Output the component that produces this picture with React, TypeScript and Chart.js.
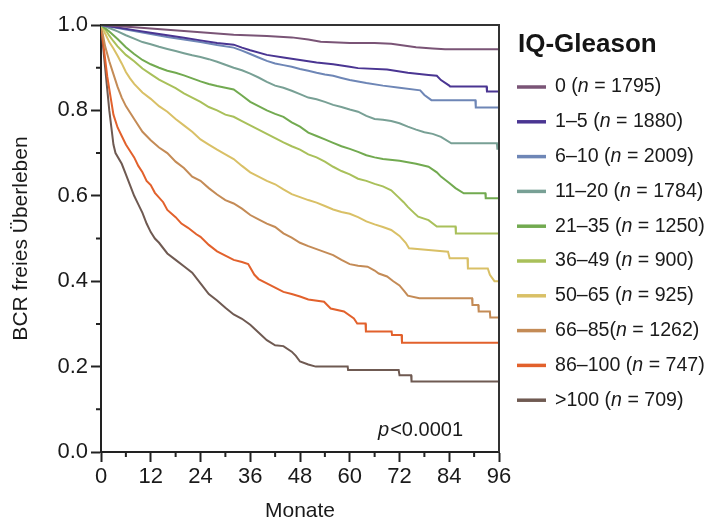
import React, { useEffect, useRef } from 'react';
import { Chart, registerables } from 'chart.js';

Chart.register(...registerables);

const FONT = '"Liberation Sans", Arial, Helvetica, sans-serif';

const seriesLabels = [
  '0 (n = 1795)',
  '1–5 (n = 1880)',
  '6–10 (n = 2009)',
  '11–20 (n = 1784)',
  '21–35 (n = 1250)',
  '36–49 (n = 900)',
  '50–65 (n = 925)',
  '66–85(n = 1262)',
  '86–100 (n = 747)',
  '>100 (n = 709)',
];

const seriesColors = [
  '#7a5476',
  '#4a3592',
  '#6e86b6',
  '#78a095',
  '#72aa50',
  '#a9c05a',
  '#d9c066',
  '#c48b56',
  '#e2612c',
  '#6f5a52',
];

// IQ-Gleason 0
const months0 = [0, 8, 16, 24, 32, 40, 46, 50, 53, 60, 66, 70, 73, 76, 80, 83, 96];
const surv0 = [1, 0.995, 0.989, 0.983, 0.977, 0.974, 0.971, 0.966, 0.961, 0.958, 0.958, 0.956, 0.952, 0.948, 0.945, 0.943, 0.943];

// 1–5
const months1 = [0, 4, 8, 12, 16, 20, 24, 28, 32, 34, 36, 40, 44, 48, 52, 56, 60, 62, 69, 74, 79, 81, 82, 84, 84.2, 93, 93.1, 96];
const surv1 = [1, 0.994, 0.988, 0.982, 0.976, 0.97, 0.964, 0.958, 0.954, 0.947, 0.941, 0.93, 0.924, 0.918, 0.912, 0.908, 0.902, 0.899, 0.896, 0.888, 0.883, 0.881, 0.871, 0.858, 0.856, 0.856, 0.844, 0.844];

// 6–10
const months2 = [0, 4, 8, 12, 16, 20, 24, 28, 32, 34, 36, 38, 40, 42, 44, 46, 48, 50, 52, 54, 56, 58, 60, 64, 68, 72, 77, 78, 79.7, 90.3, 90.4, 96];
const surv2 = [1, 0.993, 0.986, 0.979, 0.972, 0.966, 0.96, 0.953, 0.947, 0.94, 0.932, 0.924, 0.916, 0.91, 0.906, 0.902, 0.897, 0.893, 0.888, 0.884, 0.881, 0.876, 0.871, 0.864, 0.858, 0.853, 0.847, 0.836, 0.824, 0.824, 0.807, 0.807];

// 11–20
const months3 = [0, 2, 4, 6, 8, 10, 12, 14, 16, 18, 20, 22, 24, 26, 28, 30, 32, 34, 36, 38, 40, 42, 44, 46, 48, 50, 52, 54, 56, 58, 60, 62, 64, 66, 68, 70, 72, 74, 76, 78, 80, 82, 84.5, 95.5, 95.6, 96];
const surv3 = [1, 0.993, 0.985, 0.976, 0.968, 0.96, 0.955, 0.949, 0.944, 0.939, 0.934, 0.929, 0.925, 0.92, 0.914, 0.907, 0.9, 0.894, 0.886, 0.877, 0.867, 0.858, 0.853, 0.846, 0.838, 0.83, 0.826, 0.82, 0.813, 0.808, 0.802, 0.797, 0.787, 0.78, 0.778, 0.775, 0.77, 0.762, 0.755, 0.749, 0.745, 0.738, 0.723, 0.723, 0.71, 0.71];

// 21–35
const months4 = [0, 2, 4, 6, 8, 10, 12, 14, 16, 18, 20, 22, 24, 26, 28, 30, 32, 34, 36, 38, 40, 42, 44, 46, 48, 50, 52, 54, 56, 58, 60, 62, 64, 66, 68, 72, 76, 79, 81, 82, 84, 85.5, 87.5, 92.7, 92.8, 96];
const surv4 = [1, 0.985, 0.967, 0.948, 0.932, 0.918, 0.908, 0.9, 0.893, 0.888, 0.882, 0.875, 0.868, 0.862, 0.857, 0.853, 0.849, 0.835, 0.82, 0.81, 0.8, 0.792, 0.785, 0.772, 0.762, 0.748, 0.74, 0.732, 0.724, 0.716, 0.71, 0.703, 0.695, 0.69, 0.686, 0.682, 0.675, 0.668, 0.655, 0.645, 0.63, 0.618, 0.606, 0.606, 0.594, 0.594];

// 36–49
const months5 = [0, 1, 2, 3, 4, 6, 8, 10, 12, 14, 16, 18, 20, 22, 24, 26, 28, 30, 32, 34, 36, 38, 40, 42, 44, 46, 48, 50, 52, 54, 56, 58, 60, 62, 64, 66, 68, 70, 71.6, 73, 74, 75.5, 76.5, 79, 81, 85.5, 85.6, 96];
const surv5 = [1, 0.99, 0.975, 0.962, 0.95, 0.93, 0.915, 0.898, 0.885, 0.872, 0.862, 0.852, 0.84, 0.83, 0.82, 0.808, 0.8, 0.79, 0.785, 0.775, 0.765, 0.755, 0.745, 0.735, 0.725, 0.716, 0.708, 0.697, 0.69, 0.68, 0.668, 0.658, 0.65, 0.64, 0.635, 0.628, 0.622, 0.613, 0.598, 0.585, 0.574, 0.56, 0.551, 0.543, 0.528, 0.528, 0.512, 0.512];

// 50–65
const months6 = [0, 1, 2, 3, 4, 5, 6, 7, 8, 10, 12, 14, 16, 18, 20, 22, 24, 26, 28, 30, 32, 34, 36, 38, 40, 42, 44, 46, 48, 50, 52, 54, 56, 58, 60, 62, 64, 66, 68, 70, 72, 73.5, 74.3, 79, 83.7, 84.1, 88.4, 88.5, 93.3, 93.8, 94.9, 96];
const surv6 = [1, 0.98, 0.96, 0.945, 0.928, 0.91, 0.89, 0.875, 0.862, 0.842, 0.827, 0.81, 0.797, 0.78, 0.765, 0.75, 0.732, 0.72, 0.708, 0.697, 0.686, 0.67, 0.655, 0.645, 0.635, 0.627, 0.615, 0.604, 0.597, 0.59, 0.584, 0.576, 0.568, 0.562, 0.558, 0.55, 0.54, 0.533, 0.527, 0.52, 0.506, 0.49, 0.477, 0.473, 0.469, 0.454, 0.454, 0.43, 0.43, 0.415, 0.4, 0.4];

// 66–85
const months7 = [0, 1, 2, 3, 4, 5, 6, 7, 8, 10, 12, 14, 16, 18, 20, 22, 24, 26, 28, 30, 32, 34, 36, 38, 40, 42, 44, 46, 48, 50, 52, 54, 56, 58, 60, 62, 64.3, 66, 67, 69, 70.5, 72, 73.3, 74, 76.8, 89.5, 89.6, 91, 91.1, 93.8, 93.9, 96];
const surv7 = [1, 0.95, 0.915, 0.885, 0.855, 0.83, 0.81, 0.795, 0.78, 0.75, 0.73, 0.713, 0.7, 0.68, 0.665, 0.645, 0.635, 0.618, 0.603, 0.59, 0.582, 0.57, 0.555, 0.545, 0.535, 0.527, 0.512, 0.502, 0.49, 0.482, 0.475, 0.468, 0.461, 0.45, 0.44, 0.436, 0.434, 0.425, 0.418, 0.411, 0.4, 0.39, 0.375, 0.366, 0.36, 0.36, 0.344, 0.344, 0.329, 0.329, 0.315, 0.315];

// 86–100
const months8 = [0, 0.5, 1, 1.5, 2, 2.5, 3, 4, 5, 6, 7, 8, 9, 10, 11, 12, 13, 15, 16, 18, 19.4, 21, 23, 24, 26, 28, 30, 32, 34, 35.5, 37, 38, 40, 42, 44, 46, 48, 50, 53.8, 55.4, 58.6, 61, 61.8, 63.8, 63.9, 70.1, 70.2, 72.5, 72.6, 96];
const surv8 = [1, 0.96, 0.92, 0.88, 0.85, 0.82, 0.79, 0.76, 0.74, 0.72, 0.705, 0.69, 0.67, 0.655, 0.635, 0.625, 0.607, 0.585, 0.567, 0.55, 0.535, 0.525, 0.51, 0.504, 0.485, 0.47, 0.46, 0.45, 0.445, 0.44, 0.415, 0.405, 0.395, 0.385, 0.375, 0.37, 0.364, 0.357, 0.352, 0.336, 0.329, 0.313, 0.301, 0.301, 0.282, 0.282, 0.274, 0.274, 0.256, 0.256];

// >100
const months9 = [0, 0.5, 1, 1.5, 2, 2.5, 3, 3.5, 5, 6, 7, 8, 9, 10, 11, 12, 13, 14, 16, 18, 20, 22, 24, 26, 28, 30, 32, 34, 36, 38, 40, 42, 44, 46, 47, 48, 50, 51.8, 59.5, 59.6, 71.8, 72, 74.8, 74.9, 96];
const surv9 = [1, 0.95, 0.9, 0.85, 0.8, 0.76, 0.72, 0.7, 0.675, 0.65, 0.625, 0.6, 0.58, 0.56, 0.535, 0.515, 0.5, 0.49, 0.465, 0.45, 0.435, 0.42, 0.395, 0.37, 0.355, 0.338, 0.322, 0.312, 0.298, 0.28, 0.262, 0.25, 0.248, 0.235, 0.225, 0.212, 0.205, 0.2, 0.2, 0.192, 0.192, 0.18, 0.18, 0.165, 0.165];

const seriesMonths = [months0, months1, months2, months3, months4, months5, months6, months7, months8, months9];
const seriesSurv = [surv0, surv1, surv2, surv3, surv4, surv5, surv6, surv7, surv8, surv9];

const xMinorTicks = [6, 18, 30, 42, 54, 66, 78, 90];
const yMinorTicks = [0.1, 0.3, 0.5, 0.7, 0.9];

const legendTitle = 'IQ-Gleason';
const pValueText = '<0.0001';
const xTitle = 'Monate';
const yTitle = 'BCR freies Überleben';

const decorPlugin = {
  id: 'decor',
  afterDraw(chart: any) {
    const { ctx, chartArea: a, scales } = chart;
    ctx.save();
    // frame (top + right)
    ctx.strokeStyle = '#333';
    ctx.lineWidth = 2;
    ctx.beginPath();
    ctx.moveTo(a.left, a.top);
    ctx.lineTo(a.right, a.top);
    ctx.lineTo(a.right, a.bottom);
    ctx.stroke();

    // minor ticks
    ctx.strokeStyle = '#222';
    ctx.lineWidth = 2;
    ctx.beginPath();
    xMinorTicks.forEach((v) => {
      const x = scales.x.getPixelForValue(v);
      ctx.moveTo(x, a.bottom);
      ctx.lineTo(x, a.bottom + 5);
    });
    yMinorTicks.forEach((v) => {
      const y = scales.y.getPixelForValue(v);
      ctx.moveTo(a.left, y);
      ctx.lineTo(a.left - 5, y);
    });
    ctx.stroke();

    // p-value
    ctx.fillStyle = '#1a1a1a';
    ctx.textBaseline = 'middle';
    ctx.textAlign = 'left';
    ctx.font = `20px ${FONT}`;
    const pw = ctx.measureText(pValueText).width;
    const px = a.right - 36 - pw;
    const py = a.bottom - 22;
    ctx.fillText(pValueText, px, py);
    ctx.font = `italic 20px ${FONT}`;
    const iw = ctx.measureText('p').width;
    ctx.fillText('p', px - iw - 1, py);

    // legend
    const lx = a.right + 18;
    ctx.font = `bold 26px ${FONT}`;
    ctx.fillStyle = '#151515';
    ctx.fillText(legendTitle, lx + 1, a.top + 20);
    chart.data.datasets.forEach((ds: any, i: number) => {
      const y = a.top + 62 + i * 34.8;
      ctx.strokeStyle = ds.borderColor;
      ctx.lineWidth = 3.5;
      ctx.beginPath();
      ctx.moveTo(lx, y);
      ctx.lineTo(lx + 29, y);
      ctx.stroke();
      const label: string = ds.label;
      const idx = label.indexOf('n =');
      const pre = label.slice(0, idx);
      const post = label.slice(idx + 1);
      let tx = lx + 38;
      ctx.fillStyle = '#1a1a1a';
      ctx.font = `19.6px ${FONT}`;
      ctx.fillText(pre, tx, y);
      tx += ctx.measureText(pre).width;
      ctx.font = `italic 19.6px ${FONT}`;
      ctx.fillText('n', tx, y);
      tx += ctx.measureText('n').width;
      ctx.font = `19.6px ${FONT}`;
      ctx.fillText(post, tx, y);
    });
    ctx.restore();
  },
};

export default function App() {
  const ref = useRef<HTMLCanvasElement | null>(null);

  useEffect(() => {
    if (!ref.current) return;
    const datasets = seriesLabels.map((label, i) => ({
      label,
      data: seriesMonths[i].map((m, j) => ({ x: m, y: seriesSurv[i][j] })),
      borderColor: seriesColors[i],
      backgroundColor: seriesColors[i],
      borderWidth: 2,
      pointRadius: 0,
      tension: 0,
      fill: false,
    }));
    const chart = new Chart(ref.current, {
      type: 'line',
      data: { datasets },
      plugins: [decorPlugin],
      options: {
        animation: false,
        responsive: false,
        devicePixelRatio: 1,
        layout: { padding: { left: 0, right: 211, top: 25, bottom: 0 } },
        plugins: { legend: { display: false }, tooltip: { enabled: false } },
        scales: {
          x: {
            type: 'linear',
            min: 0,
            max: 96,
            afterFit: (s: any) => { s.height = 72; },
            ticks: { stepSize: 12, color: '#1a1a1a', font: { family: FONT, size: 22 }, padding: 2, maxRotation: 0 },
            grid: { display: true, drawOnChartArea: false, drawTicks: true, tickLength: 10, tickColor: '#222', tickWidth: 2 },
            border: { display: true, color: '#222', width: 2 },
            title: { display: true, text: xTitle, color: '#1a1a1a', font: { family: FONT, size: 21 }, padding: { top: 0, bottom: 0 } },
          },
          y: {
            type: 'linear',
            min: 0,
            max: 1,
            afterFit: (s: any) => { s.width = 101; },
            ticks: { stepSize: 0.2, color: '#1a1a1a', font: { family: FONT, size: 22 }, padding: 3, callback: (v: any) => Number(v).toFixed(1) },
            grid: { display: true, drawOnChartArea: false, drawTicks: true, tickLength: 10, tickColor: '#222', tickWidth: 2 },
            border: { display: true, color: '#222', width: 2 },
            title: { display: true, text: yTitle, color: '#1a1a1a', font: { family: FONT, size: 21 }, padding: { top: 9, bottom: 0 } },
          },
        },
      } as any,
    });
    return () => chart.destroy();
  }, []);

  return (
    <div style={{ position: 'absolute', left: 0, top: 0, width: 710, height: 524, background: '#fff' }}>
      <canvas ref={ref} width={710} height={524} />
    </div>
  );
}
